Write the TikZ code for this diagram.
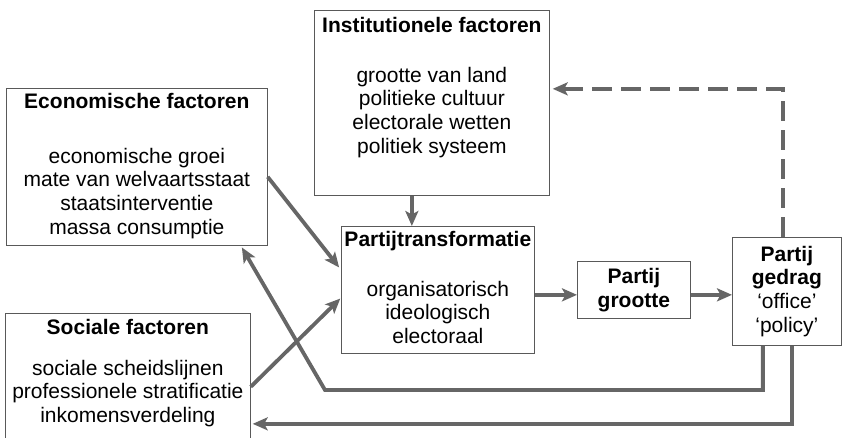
\documentclass[tikz,border=0pt]{standalone}
\usepackage{fontspec}
\setmainfont{Liberation Sans}
\usetikzlibrary{arrows.meta}

\begin{document}
\begin{tikzpicture}[x=1pt, y=1pt,
    >={Stealth[length=15pt, width=13pt, inset=3.5pt]},
    box/.style={draw=black!65, line width=0.7pt, inner sep=0pt, anchor=north west},
    txt/.style={align=center, inner sep=0pt, font=\fontsize{21}{23.7}\selectfont},
    flow/.style={->, line width=3.8pt, draw=black!60},
    back/.style={flow, dash pattern=on 20pt off 9pt}]

    \useasboundingbox (0,0) rectangle (842,438);

    % --- 1. Factor boxes (links en boven) ---
    \node [box, minimum width=261pt, minimum height=157pt] (econ) at (6,350) {};
    \node [txt, anchor=north] (econtxt) at ([yshift=-5pt]econ.north)
        {\textbf{Economische factoren}\\[31pt]
         economische groei\\ mate van welvaartsstaat\\ staatsinterventie\\ massa consumptie};

    \node [box, minimum width=245pt, minimum height=127pt] (social) at (5,125) {};
    \node [txt, anchor=north] (socialtxt) at ([yshift=-6pt]social.north)
        {\textbf{Sociale factoren}\\[17pt]
         sociale scheidslijnen\\ professionele stratificatie\\ inkomensverdeling};

    \node [box, minimum width=235pt, minimum height=185pt] (inst) at (314,428) {};
    \node [txt, anchor=north] (insttxt) at ([yshift=-7pt]inst.north)
        {\textbf{Institutionele factoren}\\[26pt]
         grootte van land\\ politieke cultuur\\ electorale wetten\\ politiek systeem};

    % --- 2. Partij boxes (midden en rechts) ---
    \node [box, minimum width=193pt, minimum height=127pt] (trans) at (341,212) {};
    \node [txt, anchor=north] (transtxt) at ([yshift=-5pt]trans.north)
        {\textbf{Partijtransformatie}\\[26pt]
         organisatorisch\\ ideologisch\\ electoraal};

    \node [box, txt, minimum width=113pt, minimum height=57pt] (grootte) at (577,177)
        {\textbf{Partij}\\ \textbf{grootte}};

    \node [box, txt, minimum width=109pt, minimum height=108pt] (gedrag) at (732,201)
        {\textbf{Partij}\\ \textbf{gedrag}\\ ‘office’\\ ‘policy’};

    % --- 3. Forward arrows ---
    \draw [flow] ([xshift=-20pt]inst.south) -- ([xshift=-20pt]inst.south |- trans.north);
    \draw [flow, shorten >=3pt] ([yshift=-10pt]econ.east) -- ([yshift=20pt]trans.west);
    \draw [flow, shorten >=1pt] ([yshift=-10pt]social.east) -- ([yshift=-8pt]trans.west);
    \draw [flow] ([yshift=-5pt]trans.east) -- ([yshift=-5pt]grootte.west);
    \draw [flow] ([yshift=-5pt]grootte.east) -- ([yshift=-5pt]grootte.east -| gedrag.west);

    % --- 4. Feedback arrows ---
    \draw [back, shorten >=3pt] ([xshift=-4pt]gedrag.north) |- ([yshift=14pt]inst.east);
    \coordinate (kink) at (325,48);
    \draw [flow, shorten >=2pt] ([xshift=-24pt]gedrag.south) |- (kink) -- ([xshift=104pt]econ.south);
    \draw [flow, shorten >=2pt] ([xshift=5pt]gedrag.south) |- ([yshift=-47pt]social.east);

\end{tikzpicture}
\end{document}
